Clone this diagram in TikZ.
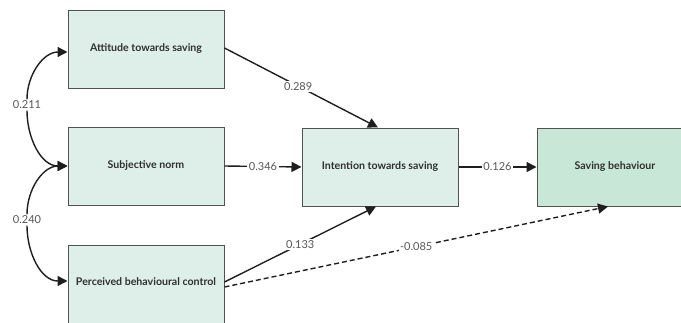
\documentclass[tikz,border=0pt]{standalone}
\usepackage{fontspec}
\setmainfont{Lato}
\usetikzlibrary{arrows.meta}
\definecolor{boxfill}{HTML}{DDEFE8}
\definecolor{boxfilldark}{HTML}{C9E7D7}
\definecolor{boxline}{HTML}{4F5452}
\definecolor{ink}{HTML}{1E1E1E}
\tikzset{
  construct/.style={draw=boxline, line width=1pt, fill=boxfill, minimum width=156pt, minimum height=78pt, inner sep=0pt, font=\fontsize{10.6}{12}\selectfont\bfseries, text=ink!92},
  outcome/.style={construct, fill=boxfilldark},
  pathline/.style={draw=ink, line width=1.4pt, -{Triangle[length=10pt,width=10pt]}},
  dualline/.style={draw=ink, line width=1.4pt, -{Triangle[length=10pt,width=10pt]}},
  coef/.style={fill=white, inner sep=1.5pt, font=\fontsize{11}{13}\selectfont, text=ink!75},
}
\begin{document}
\begin{tikzpicture}[x=1pt,y=-1pt]
\useasboundingbox (0,0) rectangle (681,322);
\node[construct] (att) at (146,49) {Attitude towards saving};
\node[construct] (sub) at (146,166) {Subjective norm};
\node[construct] (pbc) at (146,284) {\raisebox{5pt}{Perceived behavioural control}};
\node[construct] (int) at (380,167) {Intention towards saving};
\node[outcome] (sav) at (615,167) {Saving behaviour};

\node[coef] (c211) at (27,105) {0.211};
\node[coef] (c240) at (27,220) {0.240};
\draw[dualline] (c211.north) to[out=90,in=180] ([yshift=-3pt]att.west);
\draw[dualline] (c211.south) to[out=-90,in=180] (sub.west);
\draw[dualline] (c240.north) to[out=90,in=180] (sub.west);
\draw[dualline] (c240.south) to[out=-90,in=180] ([yshift=3pt]pbc.west);

\coordinate (attout) at ([yshift=1pt]att.east);
\coordinate (intin) at ([xshift=-2pt]int.north);
\draw[pathline] (attout) -- node[coef, pos=0.48] {0.289} (intin);
\draw[pathline] (sub.east) -- node[coef] {0.346} (int.west);
\draw[pathline] (int.east) -- node[coef] {0.126} (sav.west);

\coordinate (pbcout1) at ([yshift=2pt]pbc.east);
\coordinate (pbcout2) at ([yshift=-3pt]pbc.east);
\coordinate (intbot) at ([xshift=-4pt]int.south);
\coordinate (savbot) at ([xshift=-7pt]sav.south);
\draw[pathline] (pbcout1) -- node[coef, pos=0.5] {0.133} (intbot);
\draw[pathline, dashed, dash pattern=on 5pt off 3pt] (pbcout2) -- node[coef, pos=0.5] {-0.085} (savbot);
\end{tikzpicture}
\end{document}
